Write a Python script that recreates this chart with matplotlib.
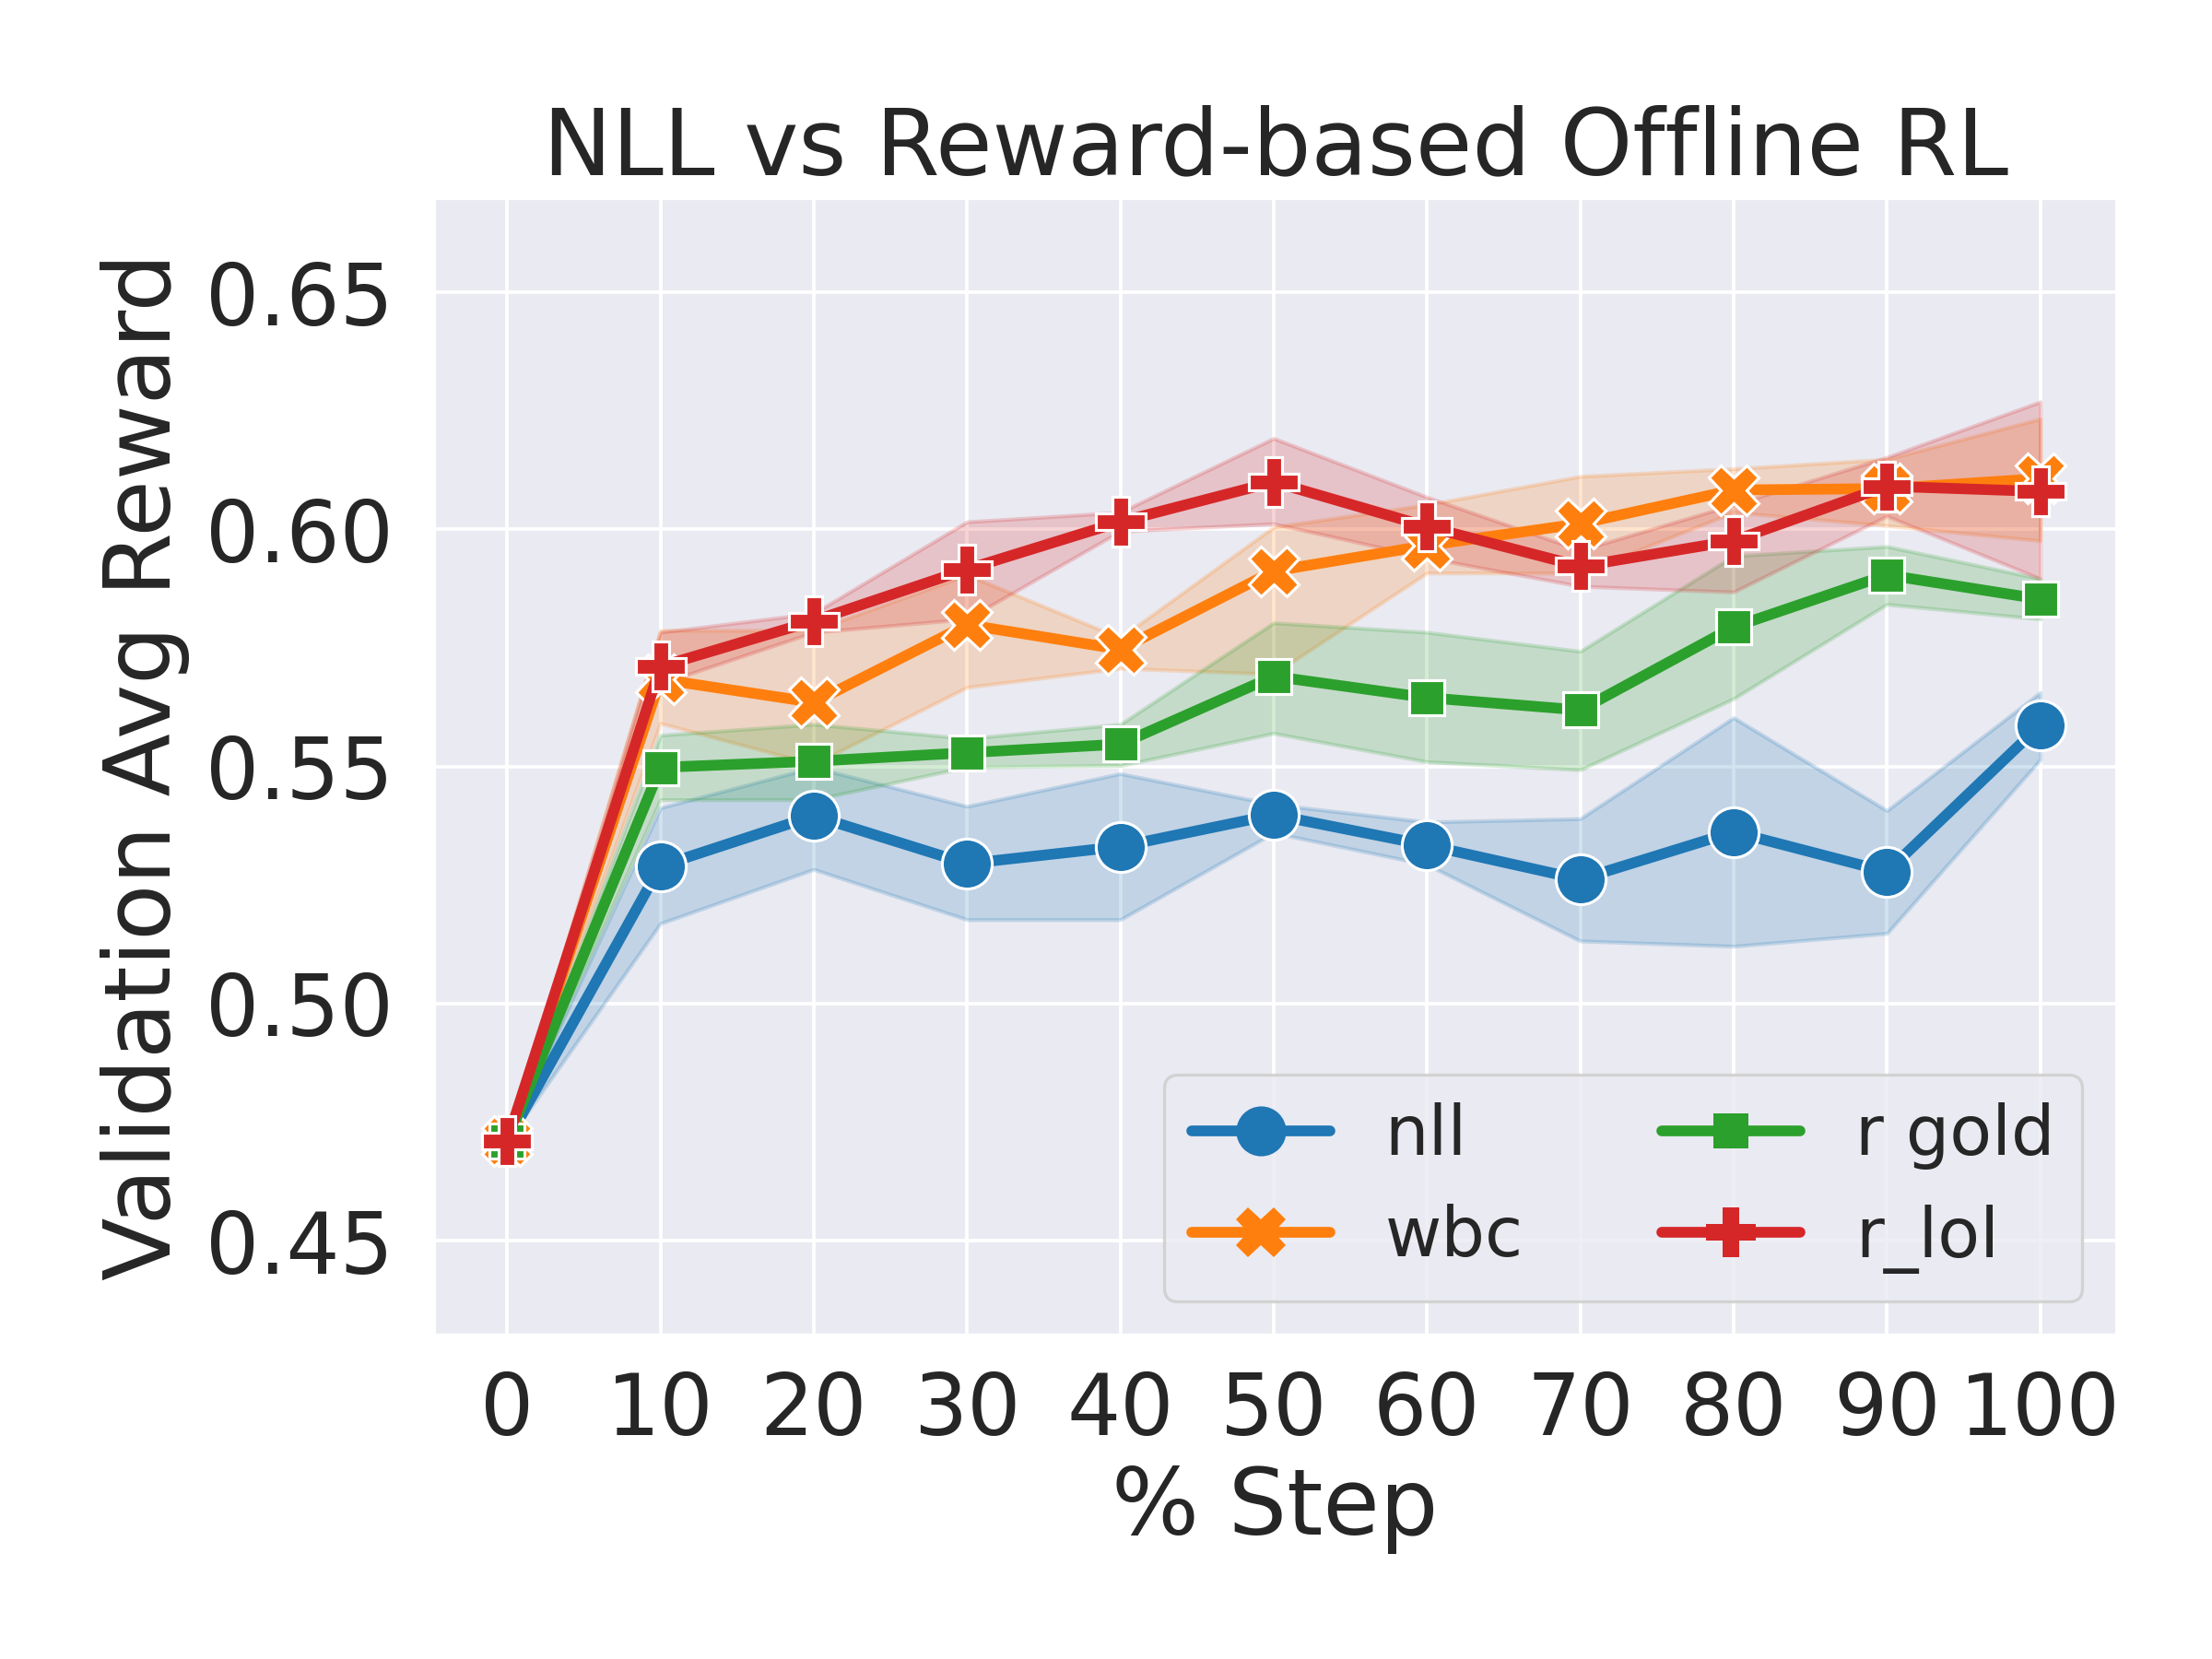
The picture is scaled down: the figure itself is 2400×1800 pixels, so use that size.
import matplotlib
matplotlib.use("Agg")
import matplotlib.pyplot as plt
from matplotlib.lines import Line2D
import seaborn as sns

# values
steps = [0, 10, 20, 30, 40, 50, 60, 70, 80, 90, 100]

nll_mean = [0.471, 0.5290, 0.5396, 0.5295, 0.5331, 0.5398, 0.5334, 0.5262, 0.5362, 0.5278, 0.5587]
nll_low = [0.471, 0.5169, 0.5283, 0.5177, 0.5177, 0.5360, 0.5293, 0.5132, 0.5121, 0.5148, 0.5514]
nll_high = [0.471, 0.5413, 0.5498, 0.5416, 0.5485, 0.5420, 0.5383, 0.5390, 0.5603, 0.5407, 0.5656]

wbc_mean = [0.471, 0.5684, 0.5635, 0.5799, 0.5747, 0.5912, 0.5966, 0.6012, 0.6083, 0.6086, 0.6107]
wbc_low = [0.471, 0.5591, 0.5505, 0.5667, 0.5707, 0.5695, 0.5908, 0.5908, 0.6036, 0.6008, 0.5976]
wbc_high = [0.471, 0.5787, 0.5787, 0.5904, 0.5771, 0.6005, 0.6052, 0.6112, 0.6128, 0.6148, 0.6233]

gold_mean = [0.471, 0.5498, 0.5511, 0.5529, 0.5547, 0.5690, 0.5645, 0.5619, 0.5794, 0.5904, 0.5853]
gold_low = [0.471, 0.5430, 0.5430, 0.5499, 0.5502, 0.5570, 0.5510, 0.5493, 0.5643, 0.5842, 0.5811]
gold_high = [0.471, 0.5566, 0.5589, 0.5559, 0.5589, 0.5803, 0.5783, 0.5743, 0.5944, 0.5964, 0.5896]

lol_mean = [0.471, 0.5711, 0.5807, 0.5916, 0.6016, 0.6100, 0.6006, 0.5922, 0.5976, 0.6091, 0.6080]
lol_low = [0.471, 0.5675, 0.5783, 0.5811, 0.5996, 0.6012, 0.5940, 0.5880, 0.5868, 0.6028, 0.5896]
lol_high = [0.471, 0.5783, 0.5823, 0.6016, 0.6036, 0.6192, 0.6068, 0.5956, 0.6052, 0.6152, 0.6269]

labels = ["nll", "wbc", "r gold", "r_lol"]
means = [nll_mean, wbc_mean, gold_mean, lol_mean]
lows = [nll_low, wbc_low, gold_low, lol_low]
highs = [nll_high, wbc_high, gold_high, lol_high]
colors = ["#1f77b4", "#ff7f0e", "#2ca02c", "#d62728"]
markers = ["o", "X", (4, 0, 45), "P"]

sns.set_theme(style="darkgrid", font_scale=2)

fig, ax = plt.subplots(figsize=(8, 6), dpi=300)
fig.subplots_adjust(left=0.196, right=0.957, top=0.881, bottom=0.195)

for lab, m, lo, hi, c, mk in zip(labels, means, lows, highs, colors, markers):
    ax.fill_between(steps, lo, hi, color=c, alpha=0.2, linewidth=1)
    ax.plot(steps, m, color=c, marker=mk, markersize=13, linewidth=2.8,
            markeredgecolor="white", markeredgewidth=0.75, label=lab)

ax.set_xlim(-4.8, 105)
ax.set_ylim(0.43, 0.67)
ax.set_xticks(steps)
ax.set_yticks([0.45, 0.50, 0.55, 0.60, 0.65])
ax.grid(linewidth=0.9)
ax.tick_params(labelsize=22, length=0)
ax.tick_params(axis="x", pad=9)
ax.tick_params(axis="y", pad=10.5)
ax.set_xlabel("% Step", fontsize=24, labelpad=3)
ax.set_ylabel("Validation Avg Reward", fontsize=24)
ax.set_title("NLL vs Reward-based Offline RL", fontsize=24)

handles = [Line2D([], [], color=c, marker=mk, markersize=13, linewidth=2.8,
                  markeredgecolor=c, markeredgewidth=0)
           for c, mk in zip(colors, markers)]
leg = ax.legend(handles, labels, loc="lower right", ncol=2, fontsize=18)
leg.get_frame().set_linewidth(0.8)

fig.savefig("out.png", dpi=300)
